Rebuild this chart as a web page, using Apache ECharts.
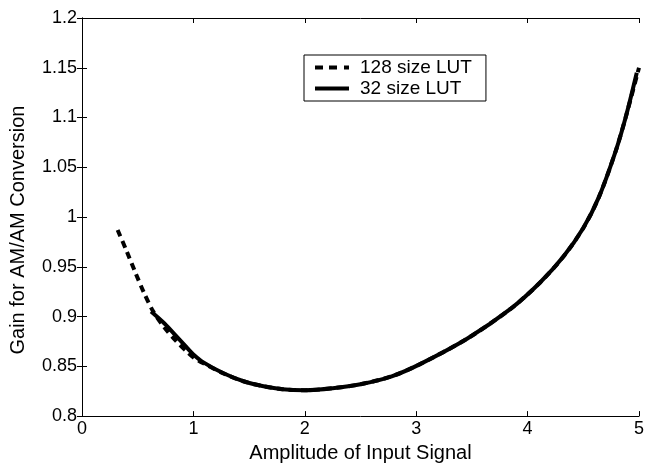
<!DOCTYPE html>
<html>
<head>
<meta charset="utf-8">
<script src="https://cdn.jsdelivr.net/npm/echarts@6/dist/echarts.min.js"></script>
<style>html,body{margin:0;padding:0;background:#fff}#c{width:647px;height:468px}</style>
</head>
<body>
<div id="c"></div>
<script>
var xTicks = [0, 1, 2, 3, 4, 5];
var yTicks = [0.8, 0.85, 0.9, 0.95, 1, 1.05, 1.1, 1.15, 1.2];
var seriesNames = ['128 size LUT', '32 size LUT'];
var lut128 = [[0.32,0.987],[0.40,0.966],[0.48,0.944],[0.56,0.923],[0.64,0.905],[0.74,0.889],[0.84,0.876],[0.94,0.865],[1.0,0.859],[1.09,0.853],[1.27,0.843],[1.45,0.835],[1.63,0.830],[1.80,0.827],[2.0,0.826],[2.25,0.828],[2.5,0.832],[2.78,0.840],[3.03,0.852],[3.46,0.878],[3.85,0.908],[4.11,0.934],[4.32,0.960],[4.50,0.989],[4.64,1.020],[4.79,1.066],[4.88,1.100],[5.0,1.150]];
var lut32 = [[0.62,0.905],[0.74,0.893],[0.84,0.881],[0.94,0.869],[1.0,0.862],[1.09,0.854],[1.27,0.843],[1.45,0.835],[1.63,0.830],[1.80,0.827],[2.0,0.826],[2.25,0.828],[2.5,0.832],[2.78,0.840],[3.03,0.852],[3.46,0.878],[3.85,0.908],[4.11,0.934],[4.32,0.960],[4.50,0.989],[4.64,1.020],[4.79,1.066],[4.88,1.100],[4.98,1.145]];

var FONT = '"Liberation Sans", Arial, Helvetica, sans-serif';
var chart = echarts.init(document.getElementById('c'), null, {renderer: 'canvas'});
var axisCommon = {
  type: 'value',
  axisLine: {show: true, lineStyle: {color: '#000', width: 1}},
  axisTick: {show: true, inside: true, length: 5, lineStyle: {color: '#000'}},
  splitLine: {show: false}
};
var icons = [
  'path://M0,0h8v4h-8z M14,0h8v4h-8z M29,0h5v4h-5z',
  'path://M0,0h34v4h-34z'
];
chart.setOption({
  animation: false,
  backgroundColor: '#fff',
  grid: {left: 77, right: 7, top: 18, bottom: 46, show: false},
  legend: {
    orient: 'vertical', left: 304, top: 55,
    padding: [3, 14, 3, 11],
    itemGap: 2,
    itemWidth: 34, itemHeight: 4,
    borderColor: '#000', borderWidth: 1,
    backgroundColor: '#fff',
    textStyle: {fontFamily: FONT, fontSize: 19, color: '#000', padding: [0, 0, 0, 6]},
    data: seriesNames.map(function (n, i) { return {name: n, icon: icons[i], itemStyle: {color: '#000'}}; })
  },
  xAxis: [
    Object.assign({}, axisCommon, {
      min: 0, max: 5, interval: 1, position: 'bottom',
      name: 'Amplitude of Input Signal', nameLocation: 'middle', nameGap: 20,
      nameTextStyle: {fontFamily: FONT, fontSize: 20, color: '#000'},
      axisLabel: {fontFamily: FONT, fontSize: 18, color: '#000', margin: 4}
    }),
    Object.assign({}, axisCommon, {
      min: 0, max: 5, interval: 1, position: 'top', axisLabel: {show: false}
    })
  ],
  yAxis: [
    Object.assign({}, axisCommon, {
      min: 0.8, max: 1.2, interval: 0.05, position: 'left',
      name: 'Gain for AM/AM Conversion', nameLocation: 'middle', nameGap: 54,
      nameTextStyle: {fontFamily: FONT, fontSize: 20, color: '#000', padding: [0, 26, 0, 0]},
      axisLabel: {fontFamily: FONT, fontSize: 18, color: '#000', margin: 5}
    }),
    Object.assign({}, axisCommon, {
      min: 0.8, max: 1.2, interval: 0.05, position: 'right', axisLabel: {show: false}
    })
  ],
  series: [
    {
      name: seriesNames[1], type: 'line', data: lut32, smooth: 0.3,
      showSymbol: false, symbol: 'none',
      lineStyle: {color: '#000', width: 4, type: 'solid'},
      itemStyle: {color: '#000'}
    },
    {
      name: seriesNames[0], type: 'line', data: lut128, smooth: 0.3,
      showSymbol: false, symbol: 'none',
      lineStyle: {color: '#000', width: 4, type: [7, 5]},
      itemStyle: {color: '#000'}
    }
  ]
});
</script>
</body>
</html>
